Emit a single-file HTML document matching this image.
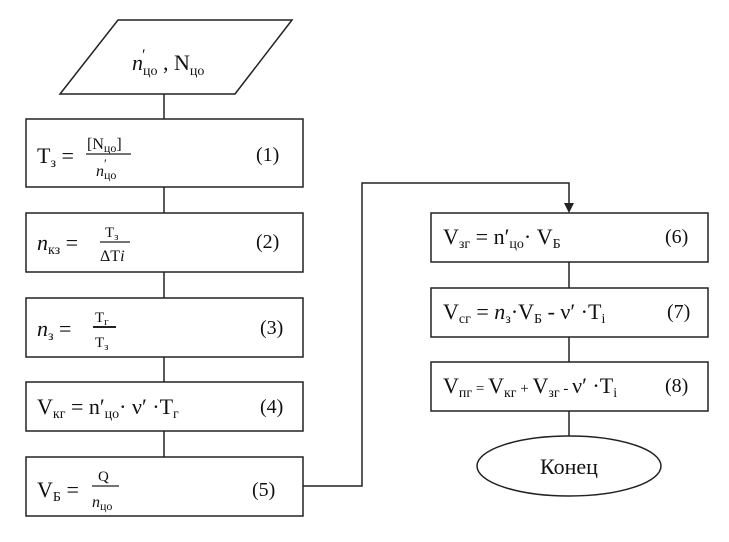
<!DOCTYPE html>
<html><head><meta charset="utf-8"><style>
body{margin:0;background:#fff}
svg text{font-family:"Liberation Serif",serif;fill:#111}
</style></head><body>
<svg width="729" height="537" viewBox="0 0 729 537" xmlns="http://www.w3.org/2000/svg">
<g fill="none" stroke="#222" stroke-width="1.5">
<polygon points="118,20 292,20 235,94 60,94"/>
<line x1="164" y1="94" x2="164" y2="119"/>
<rect x="26" y="119" width="277" height="68"/>
<line x1="164" y1="187" x2="164" y2="213"/>
<rect x="26" y="213" width="277" height="59"/>
<line x1="164" y1="272" x2="164" y2="298"/>
<rect x="26" y="298" width="277" height="59"/>
<line x1="164" y1="357" x2="164" y2="382"/>
<rect x="26" y="382" width="277" height="49"/>
<line x1="164" y1="431" x2="164" y2="457"/>
<rect x="26" y="457" width="277" height="59"/>
<polyline points="303,486 362,486 362,183 569,183 569,206"/>
<rect x="431" y="213" width="277" height="49"/>
<line x1="569" y1="262" x2="569" y2="288"/>
<rect x="431" y="288" width="277" height="49"/>
<line x1="569" y1="337" x2="569" y2="362"/>
<rect x="431" y="362" width="277" height="49"/>
<line x1="569" y1="411" x2="569" y2="436"/>
<ellipse cx="569" cy="466" rx="92" ry="30"/>
</g>
<polygon points="564,203 574,203 569,213" fill="#222"/>
<g font-size="22">
<text x="132" y="70"><tspan font-style="italic">n</tspan><tspan font-size="14" dy="5">цо</tspan><tspan dy="-5"> , N</tspan><tspan font-size="14" dy="5">цо</tspan></text>
<text x="142" y="60" font-size="16">′</text>
<text x="37" y="163">T<tspan font-size="14" dy="4">з</tspan><tspan dy="-4"> =</tspan></text>
<text x="87" y="149" font-size="16">[N<tspan font-size="12" dy="3">цо</tspan><tspan dy="-3">]</tspan></text>
<line x1="86" y1="154" x2="131" y2="154" stroke="#222" stroke-width="1.3"/>
<text x="96" y="176" font-size="16"><tspan font-style="italic">n</tspan><tspan font-size="12" dy="3">цо</tspan></text>
<text x="104" y="168" font-size="13">′</text>
<text x="256" y="161" font-size="20">(1)</text>
<text x="37" y="250"><tspan font-style="italic">n</tspan><tspan font-size="14" dy="4">кз</tspan><tspan dy="-4"> =</tspan></text>
<text x="105" y="237" font-size="15">T<tspan font-size="11" dy="3">з</tspan></text>
<line x1="100" y1="242" x2="130" y2="242" stroke="#222" stroke-width="1.3"/>
<text x="100" y="261" font-size="16">ΔT<tspan font-style="italic">i</tspan></text>
<text x="256" y="248" font-size="20">(2)</text>
<text x="37" y="336"><tspan font-style="italic">n</tspan><tspan font-size="14" dy="4">з</tspan><tspan dy="-4"> =</tspan></text>
<text x="95" y="322" font-size="15">T<tspan font-size="11" dy="3">г</tspan></text>
<line x1="93" y1="327" x2="116" y2="327" stroke="#222" stroke-width="2"/>
<text x="95" y="347" font-size="15">T<tspan font-size="11" dy="3">з</tspan></text>
<text x="260" y="334" font-size="20">(3)</text>
<text x="37" y="414">V<tspan font-size="14" dy="4">кг</tspan><tspan dy="-4"> = n′</tspan><tspan font-size="14" dy="4">цо</tspan><tspan dy="-4">· ν′  ·T</tspan><tspan font-size="14" dy="4">г</tspan></text>
<text x="260" y="413" font-size="20">(4)</text>
<text x="37" y="497">V<tspan font-size="14" dy="4">Б</tspan><tspan dy="-4"> =</tspan></text>
<text x="98" y="481" font-size="15">Q</text>
<line x1="92" y1="486" x2="119" y2="486" stroke="#222" stroke-width="1.3"/>
<text x="92" y="507" font-size="16"><tspan font-style="italic">n</tspan><tspan font-size="12" dy="3">цо</tspan></text>
<text x="252" y="496" font-size="20">(5)</text>
<text x="443" y="244">V<tspan font-size="14" dy="4">зг</tspan><tspan dy="-4"> = n′</tspan><tspan font-size="14" dy="4">цо</tspan><tspan dy="-4">·  V</tspan><tspan font-size="14" dy="4">Б</tspan></text>
<text x="665" y="243" font-size="20">(6)</text>
<text x="443" y="319">V<tspan font-size="14" dy="4">сг</tspan><tspan dy="-4"> = </tspan><tspan font-style="italic">n</tspan><tspan font-size="14" dy="4">з</tspan><tspan dy="-4">·V</tspan><tspan font-size="14" dy="4">Б</tspan><tspan dy="-4"> - ν′  ·T</tspan><tspan font-size="14" dy="4">i</tspan></text>
<text x="667" y="318" font-size="20">(7)</text>
<text x="443" y="393">V<tspan font-size="14" dy="4">пг</tspan><tspan dy="-4" font-size="15"> = </tspan><tspan>V</tspan><tspan font-size="14" dy="4">кг</tspan><tspan dy="-4" font-size="15"> + </tspan><tspan>V</tspan><tspan font-size="14" dy="4">зг</tspan><tspan dy="-4" font-size="15"> - </tspan><tspan>ν′  ·T</tspan><tspan font-size="14" dy="4">i</tspan></text>
<text x="665" y="392" font-size="20">(8)</text>
<text x="569" y="474" text-anchor="middle">Конец</text>
</g>
</svg>
</body></html>
